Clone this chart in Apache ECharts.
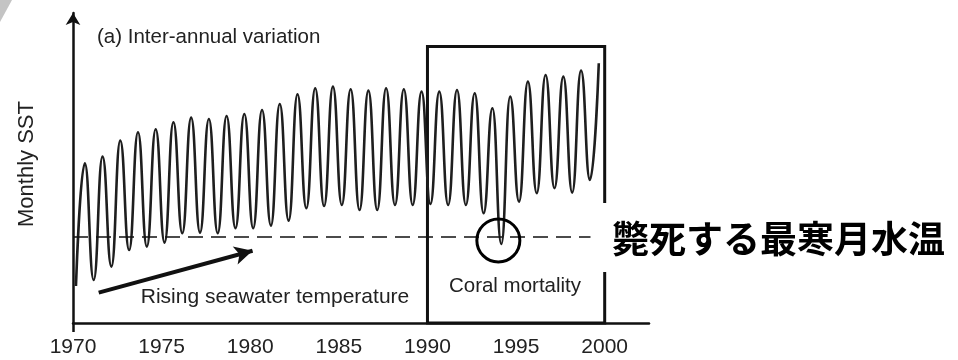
<!DOCTYPE html>
<html>
<head>
<meta charset="utf-8">
<script src="https://cdn.jsdelivr.net/npm/echarts@6/dist/echarts.min.js"></script>
<style>html,body{margin:0;padding:0;background:#fff;}#c{width:958px;height:360px;}</style>
</head>
<body>
<div id="c"></div>
<script>
// ---- data ----
const tickYears = [1970, 1975, 1980, 1985, 1990, 1995, 2000];
const years = [1970, 1971, 1972, 1973, 1974, 1975, 1976, 1977, 1978, 1979,
               1980, 1981, 1982, 1983, 1984, 1985, 1986, 1987, 1988, 1989,
               1990, 1991, 1992, 1993, 1994, 1995, 1996, 1997, 1998, 1999];
// coldest-month (March) SST each year
const coldestSST = [17.85, 18.15, 18.82, 19.65, 19.82, 20.02, 20.49, 20.52, 20.49, 20.74,
                    20.74, 20.87, 21.12, 21.74, 21.85, 21.90, 21.65, 21.65, 21.90, 21.90,
                    21.95, 21.90, 21.90, 21.49, 19.95, 22.07, 22.49, 22.74, 22.52, 23.15];
// warmest-month (September) SST each year
const warmestSST = [23.99, 24.32, 25.12, 25.54, 25.69, 26.04, 26.27, 26.20, 26.35, 26.45,
                    26.65, 26.95, 27.44, 27.74, 27.82, 27.69, 27.62, 27.74, 27.69, 27.57,
                    27.57, 27.65, 27.49, 26.74, 27.32, 28.07, 28.40, 28.32, 28.62, 28.99];
const coldMonth = 3;
const warmMonth = 9;
const mortalityThreshold = 20.29;   // lethal coldest-month temperature
const mortalityEvent = [1994.0, 20.13];
const texts = {
  title: '(a) Inter-annual variation',
  yName: 'Monthly SST',
  trend: 'Rising seawater temperature',
  coral: 'Coral mortality',
  jp: '斃死する最寒月水温'
};

// ---- build series ----
const sst = [];
years.forEach((y, i) => {
  sst.push([y + (coldMonth - 1) / 12, coldestSST[i]]);
  sst.push([y + (warmMonth - 1) / 12, warmestSST[i]]);
});

const chart = echarts.init(document.getElementById('c'), null, {renderer: 'canvas'});
const ink = '#111';
const font = '"Liberation Sans", Arial, sans-serif';

chart.setOption({
  animation: false,
  backgroundColor: '#fff',
  grid: {left: 73, right: 309, top: 13, bottom: 37},
  xAxis: {
    type: 'value', min: 1970, max: 2002.5,
    splitLine: {show: false},
    axisLine: {show: true, lineStyle: {color: ink, width: 2.5}},
    axisTick: {show: true, customValues: [tickYears[0]], length: 9, lineStyle: {color: ink, width: 2.5}},
    axisLabel: {customValues: tickYears, formatter: v => String(v), color: '#222',
                fontSize: 21, fontFamily: font, margin: 14}
  },
  yAxis: {
    type: 'value', min: 16, max: 31.5,
    splitLine: {show: false},
    axisTick: {show: false},
    axisLabel: {show: false},
    axisLine: {show: true, symbol: ['none', 'arrow'], symbolSize: [11, 12],
               lineStyle: {color: ink, width: 2.5}}
  },
  series: [
    {
      type: 'line', data: sst, showSymbol: false, smooth: 0.5, smoothMonotone: 'x',
      lineStyle: {color: '#1e1e1e', width: 2.6}, silent: true, z: 3,
      markArea: {
        silent: true,
        itemStyle: {color: 'rgba(0,0,0,0)', borderColor: ink, borderWidth: 3},
        label: {show: false},
        data: [[{coord: [1990, 29.82]}, {coord: [2000, 16]}]]
      }
    },
    {
      type: 'line', data: [], silent: true, z: 4,
      markLine: {
        silent: true, symbol: 'none', label: {show: false},
        data: [
          [{coord: [1970, mortalityThreshold], lineStyle: {type: [15, 8], width: 1.5, color: ink}},
           {coord: [1999.2, mortalityThreshold]}],
          [{coord: [1971.45, 17.52], symbol: 'none', lineStyle: {type: 'solid', width: 4, color: ink}},
           {coord: [1980.13, 19.61], symbol: 'arrow', symbolSize: [14, 18]}]
        ]
      }
    },
    {
      type: 'scatter', data: [mortalityEvent], symbol: 'circle', symbolSize: 43, silent: true, z: 5,
      itemStyle: {color: 'rgba(0,0,0,0)', borderColor: '#000', borderWidth: 3, opacity: 1}
    }
  ],
  graphic: [
    {type: 'polygon', z: 100, shape: {points: [[0, 0], [12, 0], [0, 22]]}, style: {fill: '#c4c4c4'}},
    {type: 'text', z: 100, x: 97, y: 37, style: {text: texts.title, fontSize: 20.5, fontFamily: font, fill: '#222',
      align: 'left', verticalAlign: 'middle', textAlign: 'left', textVerticalAlign: 'middle'}},
    {type: 'text', z: 100, x: 27, y: 164, rotation: Math.PI / 2, style: {text: texts.yName, fontSize: 22, fontFamily: font, fill: '#222',
      align: 'center', verticalAlign: 'middle', textAlign: 'center', textVerticalAlign: 'middle'}},
    {type: 'text', z: 100, x: 275, y: 297, style: {text: texts.trend, fontSize: 21, fontFamily: font, fill: '#222',
      align: 'center', verticalAlign: 'middle', textAlign: 'center', textVerticalAlign: 'middle'}},
    {type: 'text', z: 100, x: 515, y: 286, style: {text: texts.coral, fontSize: 20.5, fontFamily: font, fill: '#222',
      align: 'center', verticalAlign: 'middle', textAlign: 'center', textVerticalAlign: 'middle'}},
    {type: 'rect', z: 100, shape: {x: 598, y: 203, width: 360, height: 69}, style: {fill: '#fff'}},
    {type: 'text', z: 101, x: 612, y: 239, style: {text: texts.jp, fontSize: 37, fontWeight: 'bold',
      fontFamily: '"Noto Sans CJK JP", sans-serif', fill: '#000',
      align: 'left', verticalAlign: 'middle', textAlign: 'left', textVerticalAlign: 'middle'}}
  ]
});
</script>
</body>
</html>
